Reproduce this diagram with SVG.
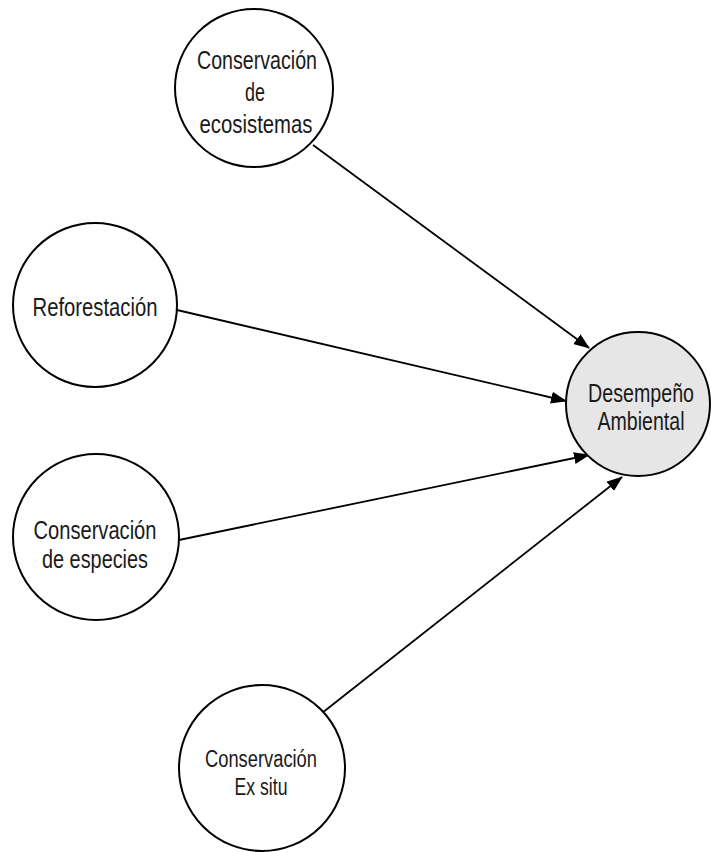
<svg xmlns="http://www.w3.org/2000/svg" width="711" height="852" viewBox="0 0 711 852">
  <style>
    .node circle { fill: #ffffff; stroke: #000000; stroke-width: 2; }
    .node.target circle { fill: #e6e6e6; }
    .node text { font-family: "Liberation Sans Narrow", "Arial Narrow", "Liberation Sans", Arial, sans-serif; font-size: 25px; fill: #1a1a1a; text-anchor: middle; }
    .node.small text { font-size: 23px; }
    .edge { stroke: #000000; stroke-width: 1.8; fill: none; marker-end: url(#arrow); }
  </style>
  <defs>
    <marker id="arrow" markerUnits="userSpaceOnUse" markerWidth="16" markerHeight="12" refX="15" refY="6" orient="auto">
      <path d="M0,0 L16,6 L0,12 Z" fill="#000000"/>
    </marker>
  </defs>
  <rect x="0" y="0" width="711" height="852" fill="#ffffff"/>

  <g id="connectors">
    <line class="edge" x1="313" y1="145" x2="589" y2="348"/>
    <line class="edge" x1="177" y1="310" x2="566" y2="401"/>
    <line class="edge" x1="179" y1="540" x2="589" y2="455"/>
    <line class="edge" x1="322" y1="713" x2="622" y2="477"/>
  </g>

  <g id="node-ecosistemas" class="node">
    <circle cx="254" cy="88" r="79"/>
    <text x="257" y="69" textLength="120" lengthAdjust="spacingAndGlyphs">Conservación</text>
    <text x="255" y="101" textLength="20" lengthAdjust="spacingAndGlyphs">de</text>
    <text x="256" y="133" textLength="113" lengthAdjust="spacingAndGlyphs">ecosistemas</text>
  </g>

  <g id="node-reforestacion" class="node">
    <circle cx="95" cy="305" r="82"/>
    <text x="95" y="316" textLength="125" lengthAdjust="spacingAndGlyphs">Reforestación</text>
  </g>

  <g id="node-especies" class="node">
    <circle cx="96" cy="537" r="83"/>
    <text x="95" y="539" textLength="123" lengthAdjust="spacingAndGlyphs">Conservación</text>
    <text x="95" y="568" textLength="106" lengthAdjust="spacingAndGlyphs">de especies</text>
  </g>

  <g id="node-exsitu" class="node small">
    <circle cx="262" cy="768" r="83"/>
    <text x="261" y="767" textLength="112" lengthAdjust="spacingAndGlyphs">Conservación</text>
    <text x="261" y="795" textLength="53" lengthAdjust="spacingAndGlyphs">Ex situ</text>
  </g>

  <g id="node-desempeno" class="node target">
    <circle cx="638" cy="404" r="72"/>
    <text x="641" y="402" textLength="106" lengthAdjust="spacingAndGlyphs">Desempeño</text>
    <text x="641" y="430" textLength="87" lengthAdjust="spacingAndGlyphs">Ambiental</text>
  </g>
</svg>
